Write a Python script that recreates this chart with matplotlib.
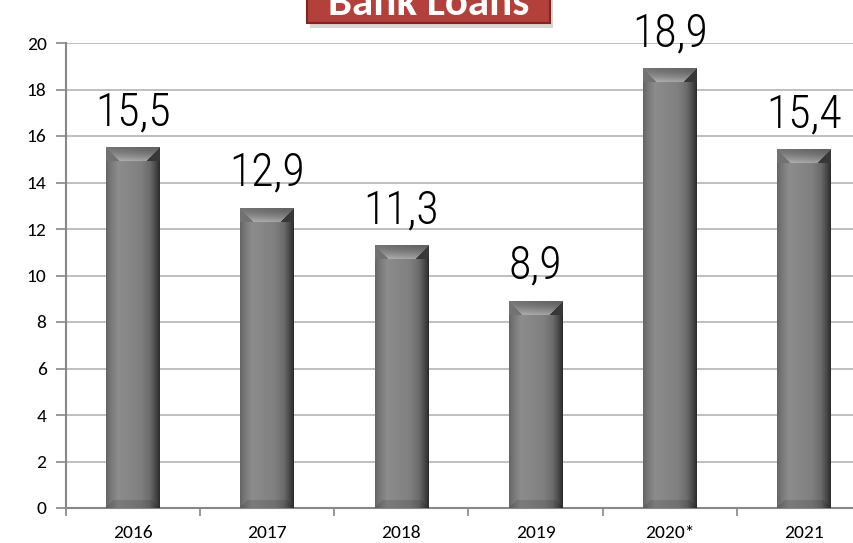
import matplotlib
matplotlib.use("Agg")
import matplotlib.pyplot as plt
import numpy as np
from matplotlib import font_manager
from matplotlib.patches import Rectangle

YEARS = ["2016", "2017", "2018", "2019", "2020*", "2021"]
LOANS = [15.5, 12.9, 11.3, 8.9, 18.9, 15.4]
LABELS = ["15,5", "12,9", "11,3", "8,9", "18,9", "15,4"]
Y_TICKS = list(range(0, 21, 2))
TITLE = "Bank Loans"

W_PX, H_PX, DPI = 854, 543, 100

_installed = {f.name for f in font_manager.fontManager.ttflist}


def pick(*fams):
    for f in fams:
        if f in _installed:
            return f
    return "DejaVu Sans"


NARROW = pick("Roboto Condensed", "Archivo Narrow", "Sofia Sans Condensed")
TICKFONT = pick("Carlito", "Lato", "Open Sans")

fig = plt.figure(figsize=(W_PX / DPI, H_PX / DPI), dpi=DPI, facecolor="white")
# axes runs past the right edge like the original (gridlines reach the border)
ax = fig.add_axes([66 / W_PX, 1 - 508 / H_PX, 805 / W_PX, 465 / H_PX])

x = np.arange(len(YEARS))
bars = ax.bar(x, LOANS, width=0.4, color="#808080", zorder=2)
ax.set_xlim(-0.5, len(YEARS) - 0.5)
ax.set_ylim(0, 20)


def bevel_image(wp, hp, top=14, bot=8):
    """Gray bar texture: horizontal sheen, light top bevel, slightly dark base."""
    t = np.linspace(0, 1, wp)
    prof = np.interp(t, [0, 0.08, 0.22, 0.4, 0.65, 0.82, 0.93, 1.0],
                     [0.40, 0.47, 0.55, 0.53, 0.50, 0.42, 0.28, 0.18])
    img = np.tile(prof, (hp, 1))
    r = np.arange(hp)[:, None]
    c = np.arange(wp)[None, :]
    cd = np.minimum(c, wp - 1 - c)
    topm = (r < top) & (r <= cd)
    tv = 0.46 + 0.26 * (r / top) ** 1.5 - 0.08 * (c / wp)
    img = np.where(topm, tv, img)
    # side facets of the top bevel
    lm = (r < top) & (c < r)
    img = np.where(lm, 0.45, img)
    rm = (r < top) & (wp - 1 - c < r)
    img = np.where(rm, 0.22, img)
    rb = hp - 1 - r
    botm = (rb < bot) & (rb <= cd)
    img = np.where(botm, img * 0.88, img)
    return np.clip(np.dstack([img, img, img]), 0, 1)


fig.canvas.draw()
for b in bars:
    x0, w, h = b.get_x(), b.get_width(), b.get_height()
    p0 = ax.transData.transform((x0, 0))
    p1 = ax.transData.transform((x0 + w, h))
    wp = max(int(round(p1[0] - p0[0])), 2)
    hp = max(int(round(p1[1] - p0[1])), 2)
    ax.imshow(bevel_image(wp, hp), extent=(x0, x0 + w, 0, h), aspect="auto",
              interpolation="bilinear", zorder=3)

ax.set_xlim(-0.5, len(YEARS) - 0.5)
ax.set_ylim(0, 20)

for xi, v, lab in zip(x, LOANS, LABELS):
    ax.annotate(lab, (xi, v), xytext=(0, 16), textcoords="offset points",
                ha="center", va="baseline", fontsize=33, family=NARROW,
                fontweight="light", color="black", zorder=4)

ax.set_yticks(Y_TICKS)
ax.set_xticks(x)
ax.set_xticklabels(YEARS)
ax.set_xticks(np.arange(-0.5, len(YEARS), 1.0), minor=True)
ax.tick_params(axis="x", which="major", length=0, pad=12)
ax.tick_params(axis="x", which="minor", length=6, color="#888888", width=1.2)
ax.tick_params(axis="y", length=7, color="#888888", width=1.2, pad=7)
for lab in ax.get_xticklabels() + ax.get_yticklabels():
    lab.set_family(TICKFONT)
    lab.set_fontsize(14)

ax.grid(axis="y", color="#b4b4b4", linewidth=1.2, zorder=0)
ax.set_axisbelow(True)
for s in ("top", "right"):
    ax.spines[s].set_visible(False)
for s in ("left", "bottom"):
    ax.spines[s].set_color("#888888")
    ax.spines[s].set_linewidth(1.5)

# title badge, cut off by the top border as in the source
bx0, bx1, by = 307 / W_PX, 550 / W_PX, 1 - 23 / H_PX
fig.patches.append(Rectangle((bx0 + 3 / W_PX, by - 5 / H_PX), bx1 - bx0, 0.2,
                             transform=fig.transFigure, facecolor="#b0b0b0",
                             alpha=0.5, edgecolor="none", zorder=1))
fig.patches.append(Rectangle((bx0, by), bx1 - bx0, 0.2, transform=fig.transFigure,
                             facecolor="#b3403a", edgecolor="#7d2622",
                             linewidth=1.5, zorder=2))
fig.text((bx0 + bx1) / 2, 1 - 15 / H_PX, TITLE, ha="center", va="baseline",
         fontsize=31, fontweight="bold", family=TICKFONT, color="white",
         zorder=3)

fig.savefig("out.png", dpi=DPI, facecolor="white")
